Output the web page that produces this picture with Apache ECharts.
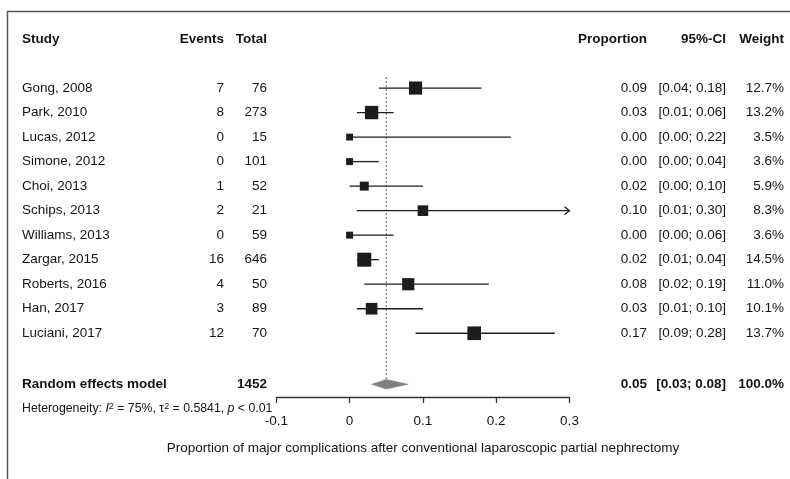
<!DOCTYPE html>
<html>
<head>
<meta charset="utf-8">
<script src="https://cdn.jsdelivr.net/npm/echarts@6/dist/echarts.min.js"></script>
<style>
  html, body { margin: 0; padding: 0; background: #ffffff; }
  #chart { width: 790px; height: 479px; }
</style>
</head>
<body>
<div id="chart"></div>
<script>
// Study-level data
const studies = ['Gong, 2008', 'Park, 2010', 'Lucas, 2012', 'Simone, 2012', 'Choi, 2013',
  'Schips, 2013', 'Williams, 2013', 'Zargar, 2015', 'Roberts, 2016', 'Han, 2017', 'Luciani, 2017'];
const events = [7, 8, 0, 0, 1, 2, 0, 16, 4, 3, 12];
const totals = [76, 273, 15, 101, 52, 21, 59, 646, 50, 89, 70];
const proportion = [0.09, 0.03, 0.00, 0.00, 0.02, 0.10, 0.00, 0.02, 0.08, 0.03, 0.17];
const ciLower = [0.04, 0.01, 0.00, 0.00, 0.00, 0.01, 0.00, 0.01, 0.02, 0.01, 0.09];
const ciUpper = [0.18, 0.06, 0.22, 0.04, 0.10, 0.30, 0.06, 0.04, 0.19, 0.10, 0.28];
const weights = [12.7, 13.2, 3.5, 3.6, 5.9, 8.3, 3.6, 14.5, 11.0, 10.1, 13.7];

// Pooled (random effects) estimate
const pooledLabel = 'Random effects model';
const pooledTotal = 1452;
const pooledEst = 0.05;
const pooledLower = 0.03;
const pooledUpper = 0.08;
const pooledWeight = 100.0;

// Axis
const xTicks = [-0.1, 0, 0.1, 0.2, 0.3];
const xTitle = 'Proportion of major complications after conventional laparoscopic partial nephrectomy';

const FONT = '"Liberation Sans", Arial, Helvetica, sans-serif';
const TXT = '#141414';
const FS = 13.5;

// Row layout: header on row 0, studies from row 2, pooled on row 14, heterogeneity below it
const HEADER_ROW = 0;
const studyRows = studies.map((_, i) => i + 2);
const POOLED_ROW = 14.08;
const HET_ROW = 15.08;

const fmt2 = v => v.toFixed(2);
const fmtCI = (lo, hi) => '[' + fmt2(lo) + '; ' + fmt2(hi) + ']';
const fmtW = w => w.toFixed(1) + '%';

// A column of table text, aligned at a fixed pixel x and placed on the row scale
function textColumn(xPx, align, rows, texts, bold, size) {
  return {
    type: 'custom',
    clip: false,
    silent: true,
    z: 5,
    data: rows.map(r => [0, r]),
    renderItem: function (params, api) {
      const y = api.coord([0, api.value(1)])[1];
      return {
        type: 'text',
        style: {
          x: xPx, y: y,
          text: texts[params.dataIndex],
          align: align,
          verticalAlign: 'middle',
          fill: TXT,
          font: (bold ? 'bold ' : '') + (size || FS) + 'px ' + FONT
        }
      };
    }
  };
}

const COL = { study: 22, events: 224, total: 267, prop: 647, ci: 726, weight: 784 };

const xMin = xTicks[0], xMax = xTicks[xTicks.length - 1];

const option = {
  animation: false,
  backgroundColor: '#ffffff',
  grid: { left: 276.3, right: 220.5, top: 39, bottom: 82, containLabel: false },
  xAxis: {
    type: 'value',
    position: 'bottom',
    min: xMin, max: xMax, interval: 0.1,
    name: xTitle,
    nameLocation: 'middle',
    nameGap: 44,
    nameTextStyle: { color: TXT, fontSize: FS, fontFamily: FONT },
    axisLine: { show: true, onZero: false, lineStyle: { color: '#333333', width: 1.3 } },
    axisTick: { show: true, inside: false, length: 6, lineStyle: { color: '#333333', width: 1.3 } },
    axisLabel: { margin: 17, color: TXT, fontSize: FS, fontFamily: FONT,
      formatter: v => (Math.abs(v) < 1e-9 ? '0' : String(Math.round(v * 10) / 10)) },
    splitLine: { show: false }
  },
  yAxis: { type: 'value', inverse: true, min: 0, max: 14.6, show: false },
  graphic: [
    // frame
    { type: 'polyline', silent: true,
      shape: { points: [[7.5, 479], [7.5, 11.5], [790, 11.5]] },
      style: { stroke: '#555555', lineWidth: 1.5, fill: null } }
  ],
  series: [
    // reference line at the pooled estimate
    {
      type: 'custom', clip: false, silent: true, z: 1,
      data: [[pooledEst, 1.55, 13.9]],
      renderItem: function (params, api) {
        const p1 = api.coord([api.value(0), api.value(1)]);
        const p2 = api.coord([api.value(0), api.value(2)]);
        return { type: 'line', shape: { x1: p1[0], y1: p1[1], x2: p2[0], y2: p2[1] },
          style: { stroke: '#7a7a7a', lineWidth: 1.2, lineDash: [2, 2] } };
      }
    },
    // study confidence intervals and weighted squares
    {
      type: 'custom', clip: false, silent: true, z: 3,
      data: studies.map((s, i) => [proportion[i], studyRows[i], ciLower[i], ciUpper[i], weights[i]]),
      renderItem: function (params, api) {
        const row = api.value(1);
        const est = api.coord([api.value(0), row]);
        const lo = api.coord([Math.max(api.value(2), xMin), row]);
        const hiVal = api.value(3);
        const hi = api.coord([Math.min(hiVal, xMax), row]);
        const side = 3.68 * Math.sqrt(api.value(4));
        const children = [
          { type: 'line', shape: { x1: lo[0], y1: lo[1], x2: hi[0], y2: hi[1] },
            style: { stroke: '#1c1c1c', lineWidth: 1.3 } },
          { type: 'rect', shape: { x: est[0] - side / 2, y: est[1] - side / 2, width: side, height: side },
            style: { fill: '#1c1c1c' } }
        ];
        if (hiVal >= xMax) {
          children.push({ type: 'polyline',
            shape: { points: [[hi[0] - 5, hi[1] - 4], [hi[0], hi[1]], [hi[0] - 5, hi[1] + 4]] },
            style: { stroke: '#1c1c1c', lineWidth: 1.3, fill: null } });
        }
        return { type: 'group', children: children };
      }
    },
    // pooled diamond
    {
      type: 'custom', clip: false, silent: true, z: 3,
      data: [[pooledEst, POOLED_ROW, pooledLower, pooledUpper]],
      renderItem: function (params, api) {
        const row = api.value(1);
        const c = api.coord([api.value(0), row]);
        const l = api.coord([api.value(2), row]);
        const r = api.coord([api.value(3), row]);
        const h = 4.8;
        return { type: 'polygon',
          shape: { points: [[l[0], c[1]], [c[0], c[1] - h], [r[0], c[1]], [c[0], c[1] + h]] },
          style: { fill: '#808080', stroke: '#808080', lineWidth: 0.5 } };
      }
    },
    // header row
    textColumn(COL.study, 'left', [HEADER_ROW], ['Study'], true),
    textColumn(COL.events, 'right', [HEADER_ROW], ['Events'], true),
    textColumn(COL.total, 'right', [HEADER_ROW], ['Total'], true),
    textColumn(COL.prop, 'right', [HEADER_ROW], ['Proportion'], true),
    textColumn(COL.ci, 'right', [HEADER_ROW], ['95%-CI'], true),
    textColumn(COL.weight, 'right', [HEADER_ROW], ['Weight'], true),
    // study rows
    textColumn(COL.study, 'left', studyRows, studies, false),
    textColumn(COL.events, 'right', studyRows, events.map(String), false),
    textColumn(COL.total, 'right', studyRows, totals.map(String), false),
    textColumn(COL.prop, 'right', studyRows, proportion.map(fmt2), false),
    textColumn(COL.ci, 'right', studyRows, ciLower.map((lo, i) => fmtCI(lo, ciUpper[i])), false),
    textColumn(COL.weight, 'right', studyRows, weights.map(fmtW), false),
    // pooled row
    textColumn(COL.study, 'left', [POOLED_ROW], [pooledLabel], true),
    textColumn(COL.total, 'right', [POOLED_ROW], [String(pooledTotal)], true),
    textColumn(COL.prop, 'right', [POOLED_ROW], [fmt2(pooledEst)], true),
    textColumn(COL.ci, 'right', [POOLED_ROW], [fmtCI(pooledLower, pooledUpper)], true),
    textColumn(COL.weight, 'right', [POOLED_ROW], [fmtW(pooledWeight)], true),
    // heterogeneity statistics
    {
      type: 'custom', clip: false, silent: true, z: 5,
      data: [[0, HET_ROW]],
      renderItem: function (params, api) {
        const y = api.coord([0, api.value(1)])[1];
        const base = { fill: TXT, fontFamily: FONT, fontSize: 12.3 };
        return {
          type: 'text',
          style: {
            x: COL.study, y: y, align: 'left', verticalAlign: 'middle',
            text: '{n|Heterogeneity: }{i|I}{s|2}{n| = 75%, τ}{s|2}{n| = 0.5841, }{i|p}{n| < 0.01}',
            rich: {
              n: Object.assign({}, base),
              i: Object.assign({ fontStyle: 'italic' }, base),
              s: Object.assign({}, base, { fontSize: 9, verticalAlign: 'top', lineHeight: 14, padding: [0, 0, 7, 0] })
            },
            fill: TXT, font: '12.3px ' + FONT
          }
        };
      }
    }
  ]
};

const chart = echarts.init(document.getElementById('chart'), null, { renderer: 'canvas' });
chart.setOption(option);
</script>
</body>
</html>
